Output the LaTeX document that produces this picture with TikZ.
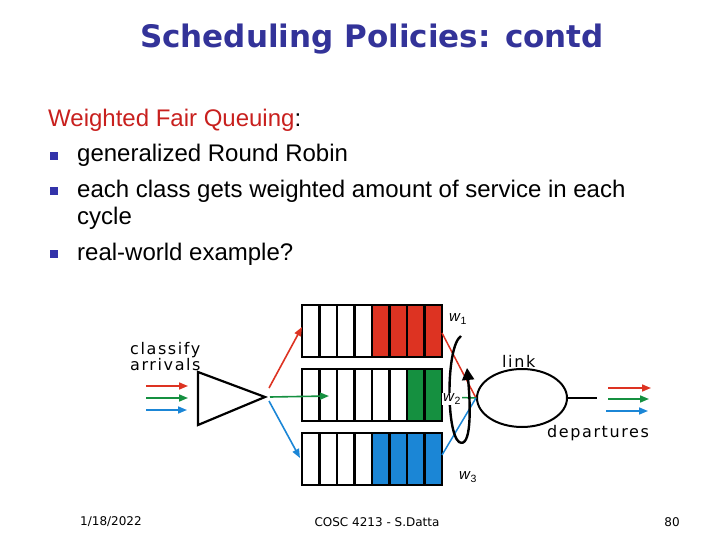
\documentclass[tikz,border=0pt]{standalone}
\usepackage{fontspec}
\setmainfont{Liberation Sans}
\newfontfamily\diagfont[LetterSpace=10]{DejaVu Sans}
\newfontfamily\titlefont{DejaVu Sans}
\newfontfamily\footfont{DejaVu Sans}
\usepackage{tikz}
\usetikzlibrary{arrows.meta,shapes.geometric}
\definecolor{titleblue}{HTML}{333399}
\definecolor{wfqred}{HTML}{C8201E}
\definecolor{bulletblue}{HTML}{3333AA}
\definecolor{qred}{HTML}{DD3322}
\definecolor{qgreen}{HTML}{159040}
\definecolor{qblue}{HTML}{1B86D6}

\begin{document}
\begin{tikzpicture}[x=1pt,y=-1pt,
  body/.style={anchor=base west,inner sep=0pt,font=\fontsize{24}{28}\selectfont},
  bullet/.style={fill=bulletblue,minimum size=8pt,inner sep=0pt},
  cell/.style={draw=black,line width=2.4pt},
  flow/.style={-{Triangle[length=9pt,width=7pt]},line width=1.6pt},
  lbl/.style={anchor=base west,inner sep=0pt,font=\diagfont\fontsize{16}{13}\selectfont},
  wlbl/.style={inner sep=1pt,font=\fontsize{15}{16}\selectfont}]
  \useasboundingbox (0,0) rectangle (720,540);

  % title and text
  \node[anchor=base,inner sep=0pt,text=titleblue,font=\titlefont\bfseries\fontsize{31}{34}\selectfont] (title) at (372,48) {Scheduling Policies: contd};
  \node[body,text=wfqred] (wfq) at (48,127) {Weighted Fair Queuing\textcolor{black}{:}};
  \node[body] (b1) at (77,162) {generalized Round Robin};
  \node[body] (b2) at (77,197) {each class gets weighted amount of service in each};
  \node[body] (b2b) at (77,225) {cycle};
  \node[body] (b3) at (77,260) {real-world example?};
  \node[bullet] (s1) at (54,156) {};
  \node[bullet] (s2) at (54,191) {};
  \node[bullet] (s3) at (54,254) {};

  % classifier
  \node[lbl,align=left,anchor=north west] (classify) at (130,342) {classify\\arrivals};
  \coordinate (apex) at (265,397);
  \draw[line width=2.2pt,line join=miter] (198,372) -- (apex) -- (198,425) -- cycle;
  \draw[flow,qred] (146,386) -- (188,386);
  \draw[flow,qgreen] (146,398) -- (188,398);
  \draw[flow,qblue] (146,410) -- (187,410);

  % queues
  \foreach \y/\col/\nw in {305/qred/4,369/qgreen/6,433/qblue/4}{
    \foreach \i in {1,...,8}{
      \pgfmathsetmacro\x{302+(\i-1)*17.5}
      \ifnum\i>\nw \def\fc{\col}\else\def\fc{white}\fi
      \draw[cell,fill=\fc] (\x,\y) rectangle ++(17.5,52);
    }
  }
  \coordinate (q1in) at (302,327);
  \coordinate (q2in) at (329,396);
  \coordinate (q3in) at (300,458);
  \coordinate (q1out) at (442,333);
  \coordinate (q2out) at (442,397);
  \coordinate (q3out) at (442,455);

  \draw[flow,qred] ([shift={(4,-9)}]apex) -- (q1in);
  \draw[flow,qgreen] ([shift={(5,0)}]apex) -- (q2in);
  \draw[flow,qblue] ([shift={(4,4)}]apex) -- (q3in);

  % link
  \node[draw,ellipse,line width=2pt,minimum width=90pt,minimum height=58pt] (link) at (522,398) {};
  \coordinate (linkend) at (597,398);
  \draw[qred,line width=1.5pt] (q1out) -- (link.west);
  \draw[qgreen,line width=1.5pt] (q2out) -- (link.west);
  \draw[qblue,line width=1.5pt] (q3out) -- (link.west);
  \draw[line width=1.8pt] (link.east) -- (linkend);
  \node[lbl] (linklbl) at (502,367) {link};
  \node[lbl] (dep) at (547,437) {departures};

  % round robin loop
  \draw[line width=2.4pt,-{Triangle[length=12pt,width=12pt]}]
    (461,336) .. controls (446,346) and (446,432) .. (459,442)
    .. controls (471,449) and (471,410) .. (467,368);
  \node[wlbl] (w1) at (458,319) {\textit{w}\textsubscript{1}};
  \node[wlbl,fill=white] (w2) at (452,399) {\textit{w}\textsubscript{2}};
  \node[wlbl] (w3) at (468,477) {\textit{w}\textsubscript{3}};

  \draw[flow,qred] (608,388) -- (651,388);
  \draw[flow,qgreen] (608,399) -- (649,399);
  \draw[flow,qblue] (606,411) -- (648,411);

  % footer
  \node[inner sep=0pt,font=\footfont\fontsize{12}{14}\selectfont] (date) at (111,522) {1/18/2022};
  \node[inner sep=0pt,font=\footfont\fontsize{12}{14}\selectfont] (course) at (377,522) {COSC 4213 - S.Datta};
  \node[inner sep=0pt,font=\footfont\fontsize{12}{14}\selectfont] (page) at (672,522) {80};
\end{tikzpicture}
\end{document}
